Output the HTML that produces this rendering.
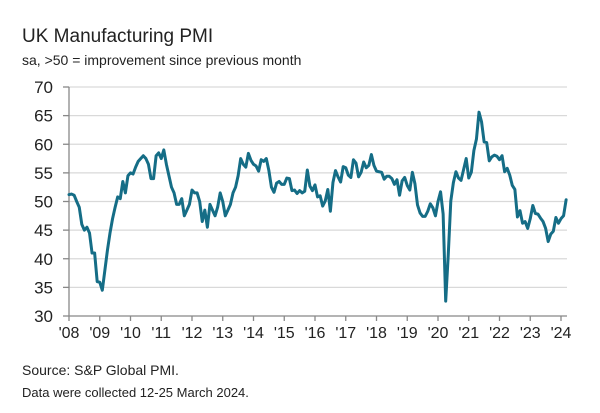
<!DOCTYPE html>
<html><head><meta charset="utf-8"><style>
body{margin:0;background:#fff;font-family:"Liberation Sans",sans-serif;}
#wrap{position:relative;width:600px;height:413px;overflow:hidden;}
.t{position:absolute;color:#222;white-space:nowrap;}
</style></head><body>
<div id="wrap">
<div class="t" style="left:22px;top:26px;font-size:19px;">UK Manufacturing PMI</div>
<div class="t" style="left:22px;top:52px;font-size:14px;">sa, &gt;50 = improvement since previous month</div>
<svg id="chart" width="600" height="413" style="position:absolute;left:0;top:0"></svg>
<div class="t" style="left:22px;top:362px;font-size:14px;">Source: S&amp;P Global PMI.</div>
<div class="t" style="left:22px;top:385px;font-size:13px;">Data were collected 12-25 March 2024.</div>
</div>
<script>
const yTicks=[30,35,40,45,50,55,60,65,70];
const xLabels=["'08","'09","'10","'11","'12","'13","'14","'15","'16","'17","'18","'19","'20","'21","'22","'23","'24"];
const startYear=2008;
const pmi=[
51.2,51.3,51.1,50.0,49.0,46.0,45.0,45.5,44.5,41.0,41.0,36.0,
35.9,34.5,38.0,41.5,44.5,47.0,49.0,50.8,50.5,53.5,51.5,54.5,
55.0,54.8,56.0,57.0,57.5,58.0,57.5,56.5,54.0,54.0,58.0,58.5,
57.5,59.0,56.5,54.5,52.5,51.5,49.5,49.5,50.5,47.5,48.5,49.5,
52.0,51.5,51.5,50.0,46.5,48.5,45.5,49.5,48.5,47.5,49.0,51.5,
50.0,47.5,48.5,49.5,51.5,52.5,54.5,57.5,56.5,56.0,58.4,57.2,
56.5,56.2,55.3,57.3,57.0,57.5,55.4,52.5,51.6,53.2,53.5,53.0,
53.0,54.1,54.0,51.9,52.0,51.4,51.9,51.5,51.8,55.5,52.7,51.9,
52.9,50.8,51.0,49.2,50.1,52.1,48.3,53.3,55.4,54.3,53.4,56.1,
55.9,54.6,54.2,57.3,56.7,54.3,55.1,56.9,55.9,56.3,58.2,56.3,
55.3,55.2,55.1,53.9,54.4,54.4,54.0,53.0,53.8,51.1,53.6,54.2,
52.8,52.0,55.1,53.1,49.4,48.0,47.4,47.4,48.3,49.6,48.9,47.5,
50.0,51.7,47.8,32.6,40.7,50.1,53.3,55.2,54.1,53.7,55.6,57.5,
54.1,55.1,58.9,60.9,65.6,63.9,60.4,60.3,57.1,57.8,58.1,57.9,
57.3,58.0,55.2,55.8,54.6,52.8,52.1,47.3,48.4,46.2,46.5,45.3,
47.0,49.3,47.9,47.8,47.1,46.5,45.3,43.0,44.3,44.8,47.2,46.2,
47.0,47.5,50.3];
const NS="http://www.w3.org/2000/svg";
const svg=document.getElementById('chart');
const x0=69,yearW=30.75,yTop=87,yBot=316,xEnd=567;
function xs(i){return x0+i*yearW/12;}
function ys(v){return yBot-(v-30)/(70-30)*(yBot-yTop);}
function mk(tag,attrs){const e=document.createElementNS(NS,tag);for(const k in attrs)e.setAttribute(k,attrs[k]);svg.appendChild(e);return e;}
yTicks.forEach(v=>{
  if(v>30){const g=mk('line',{x1:x0,x2:xEnd,y1:ys(v),y2:ys(v),stroke:'#d9d9d9','stroke-width':1.3});
  
  }
  const tk=mk('line',{x1:x0-6,x2:x0,y1:ys(v),y2:ys(v),stroke:'#888','stroke-width':1.3});
  
  
  const t=mk('text',{x:x0-16,y:ys(v)+6,'text-anchor':'end','font-size':17,fill:'#222','font-family':'Liberation Sans, sans-serif'});
  t.textContent=v;
  
  
});
const ya=mk('line',{x1:x0,x2:x0,y1:yTop,y2:yBot,stroke:'#888','stroke-width':1.3});


const xa=mk('line',{x1:x0,x2:xEnd,y1:yBot,y2:yBot,stroke:'#888','stroke-width':1.3});


xLabels.forEach((l,k)=>{
  const x=x0+k*yearW;
  const tk=mk('line',{x1:x,x2:x,y1:yBot,y2:yBot+5,stroke:'#888','stroke-width':1.3});
  
  
  const t=mk('text',{x:x,y:yBot+22,'text-anchor':'middle','font-size':16,fill:'#222','font-family':'Liberation Sans, sans-serif'});
  t.textContent=l;
  
  
});
const d=pmi.map((v,i)=>(i?'L':'M')+xs(i).toFixed(2)+' '+ys(v).toFixed(2)).join(' ');
const p=mk('path',{d:d,fill:'none',stroke:'#156d86','stroke-width':3,'stroke-linejoin':'round','stroke-linecap':'round'});


</script>
</body></html>
